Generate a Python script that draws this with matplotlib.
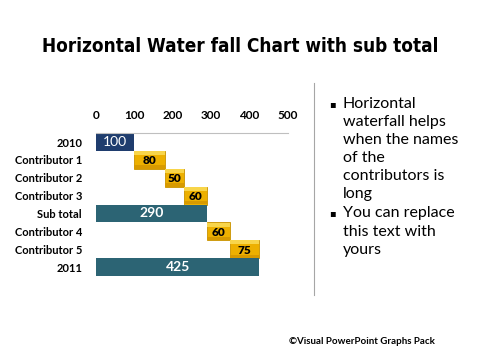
import matplotlib
matplotlib.use("Agg")
import matplotlib.pyplot as plt
import numpy as np

categories = ["2010", "Contributor 1", "Contributor 2", "Contributor 3",
              "Sub total", "Contributor 4", "Contributor 5", "2011"]
values = [100, 80, 50, 60, 290, 60, 75, 425]
kinds = ["start", "step", "step", "step", "total", "step", "step", "total"]
xticks = [0, 100, 200, 300, 400, 500]
title = "Horizontal Water fall Chart with sub total"
bullet1 = ["Horizontal", "waterfall helps", "when the names", "of the",
           "contributors is", "long"]
bullet2 = ["You can replace", "this text with", "yours"]
footer = "©Visual PowerPoint Graphs Pack"

col_start = "#1F3D6E"
col_total = "#2C6474"
col_step = "#EDB000"

fig = plt.figure(figsize=(4.8, 3.6), dpi=100)
ax = fig.add_axes([0.2, 0.2333, 0.4, 0.397])

lefts = []
running = 0
for v, k in zip(values, kinds):
    if k in ("start", "total"):
        lefts.append(0); running = v
    else:
        lefts.append(running); running += v

y = np.arange(len(categories))
for i, (v, l, k) in enumerate(zip(values, lefts, kinds)):
    if k == "step":
        ax.barh(i, v, left=l, height=1.0, color=col_step, edgecolor="#C89200", linewidth=0.6, zorder=2)
        ax.barh(i - 0.38, v, left=l, height=0.22, color="#F8D54A", linewidth=0, zorder=3)
        ax.barh(i + 0.40, v, left=l, height=0.18, color="#D79A00", linewidth=0, zorder=3)
        ax.text(l + v / 2, i + 0.05, str(v), ha="center", va="center", fontsize=8.5,
                fontweight="heavy", color="black", family="Lato", zorder=4)
    elif k == "start":
        ax.barh(i, v, left=l, height=1.0, color=col_start, linewidth=0, zorder=2)
        ax.text(l + v / 2, i, str(v), ha="center", va="center", fontsize=10,
                color="white", family="Lato", zorder=4)
    else:
        ax.barh(i, v, left=l, height=1.0, color=col_total, linewidth=0, zorder=2)
        ax.text(l + v / 2, i, str(v), ha="center", va="center", fontsize=10,
                fontweight="bold", color="white", family="Lato", zorder=4)

ax.set_xlim(0, 500)
ax.set_ylim(len(categories) - 0.5, -0.5)
ax.set_xticks(xticks)
ax.set_xticklabels([str(t) for t in xticks], fontsize=8.5, fontweight="bold", family="Lato")
ax.xaxis.tick_top()
ax.tick_params(axis="x", length=0, pad=9)
ax.set_yticks(y)
ax.set_yticklabels(categories, fontsize=8, fontweight="bold", family="Lato")
ax.tick_params(axis="y", length=0, pad=10)
for s in ["bottom", "left", "right"]:
    ax.spines[s].set_visible(False)
ax.spines["top"].set_color("#BFBFBF")
ax.spines["top"].set_linewidth(0.8)

fig.text(0.5, 1 - 47 / 360, title, ha="center", va="center", fontsize=13.6,
         fontweight="bold", fontstretch="condensed", family="DejaVu Sans")

fig.add_artist(plt.Line2D([314 / 480, 314 / 480], [1 - 83 / 360, 1 - 295 / 360],
                          color="#A6A6A6", linewidth=0.8))

ys1 = [104, 122, 140, 158, 176, 194]
ys2 = [213, 232, 250]
fig.text(332 / 480, 1 - ys1[0] / 360, "▪", ha="center", va="center", fontsize=7,
         family="DejaVu Sans")
fig.text(332 / 480, 1 - ys2[0] / 360, "▪", ha="center", va="center", fontsize=7,
         family="DejaVu Sans")
for t, yy in zip(bullet1, ys1):
    fig.text(343 / 480, 1 - yy / 360, t, ha="left", va="center", fontsize=11.5, family="Lato")
for t, yy in zip(bullet2, ys2):
    fig.text(343 / 480, 1 - yy / 360, t, ha="left", va="center", fontsize=11.5, family="Lato")

fig.text(435 / 480, 1 - 342 / 360, footer, ha="right", va="center", fontsize=7,
         fontweight="bold", family="Lato")

fig.savefig("out.png", dpi=100)
